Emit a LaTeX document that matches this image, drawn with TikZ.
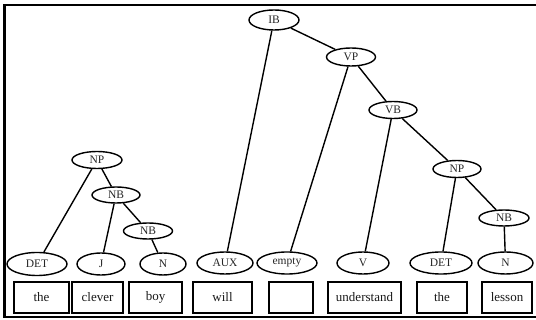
\documentclass[tikz,border=0pt]{standalone}
\usepackage{fontspec}
\setmainfont{Liberation Serif}
\usetikzlibrary{shapes.geometric}
\begin{document}
\begin{tikzpicture}[x=1pt,y=-1pt,
  cat/.style={ellipse,draw,line width=1.4pt,inner sep=0pt,
    font=\fontsize{11.5}{12}\selectfont,text=black!85},
  word/.style={rectangle,draw,line width=1.4pt,inner sep=0pt,
    minimum height=31pt,font=\fontsize{13}{14}\selectfont,text=black!90},
  branch/.style={line width=1.4pt}]
\useasboundingbox (0,0) rectangle (536,320);
% outer frame (open at the right)
\draw[line width=2.5pt] (537,5) -- (4.5,5) -- (4.5,317) -- (537,317);

% words
\node[word,minimum width=55pt] (w1) at (41.5,297.5) {the};
\node[word,minimum width=51pt] (w2) at (97.5,297.5) {clever};
\node[word,minimum width=53pt] (w3) at (155.5,297.5) {boy};
\node[word,minimum width=59pt] (w4) at (222.5,297.5) {will};
\node[word,minimum width=44pt] (w5) at (291,297.5) {};
\node[word,minimum width=73pt] (w6) at (364.5,297.5) {understand};
\node[word,minimum width=50pt] (w7) at (442,297.5) {the};
\node[word,minimum width=50pt] (w8) at (507,297.5) {lesson};

% lexical categories
\node[cat,minimum width=60pt,minimum height=23pt] (det1) at (37,264) {DET};
\node[cat,minimum width=48pt,minimum height=22pt] (adj)  at (101,264) {J};
\node[cat,minimum width=46pt,minimum height=22pt] (n1)   at (163,264) {N};
\node[cat,minimum width=56pt,minimum height=22pt] (aux)  at (225,263) {AUX};
\node[cat,minimum width=60pt,minimum height=22pt] (emp)  at (287,263) {empty};
\node[cat,minimum width=52pt,minimum height=22pt] (verb) at (363,263) {V};
\node[cat,minimum width=62pt,minimum height=22pt] (det2) at (441,263) {DET};
\node[cat,minimum width=55pt,minimum height=22pt] (n2)   at (505.5,263) {N};

% phrasal categories
\node[cat,minimum width=50pt,minimum height=17pt] (np1) at (97,160) {NP};
\node[cat,minimum width=48pt,minimum height=16pt] (nb1) at (116,195) {NB};
\node[cat,minimum width=49pt,minimum height=16pt] (nb2) at (148,231) {NB};
\node[cat,minimum width=50pt,minimum height=20pt] (ib)  at (274,20) {IB};
\node[cat,minimum width=49pt,minimum height=18pt] (vp)  at (351,57) {VP};
\node[cat,minimum width=48pt,minimum height=17pt] (vb)  at (393,110) {VB};
\node[cat,minimum width=48pt,minimum height=17pt] (np2) at (457,169) {NP};
\node[cat,minimum width=50pt,minimum height=16pt] (nb3) at (504,218) {NB};

% branches
\draw[branch] (np1) -- (det1);
\draw[branch] (np1) -- (nb1);
\draw[branch] (nb1) -- (adj);
\draw[branch] (nb1) -- (nb2);
\draw[branch] (nb2) -- (n1);
\draw[branch] (ib) -- (aux);
\draw[branch] (ib) -- (vp);
\draw[branch] (vp) -- (emp);
\draw[branch] (vp) -- (vb);
\draw[branch] (vb) -- (verb);
\draw[branch] (vb) -- (np2);
\draw[branch] (np2) -- (det2);
\draw[branch] (np2) -- (nb3);
\draw[branch] (nb3) -- (n2);
\end{tikzpicture}
\end{document}
